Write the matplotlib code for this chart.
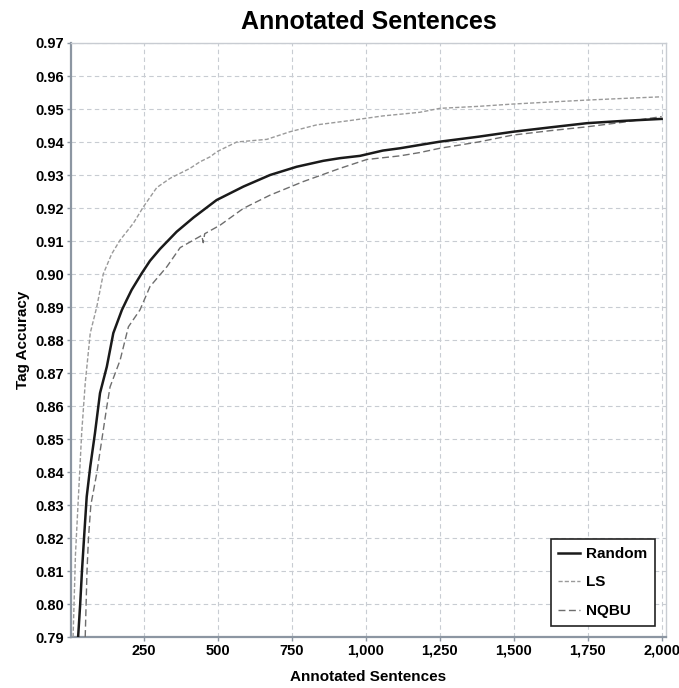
import matplotlib
matplotlib.use("Agg")
import matplotlib.pyplot as plt
from matplotlib.ticker import FuncFormatter, MultipleLocator

plt.rcParams['font.family'] = ['Liberation Sans', 'DejaVu Sans']
plt.rcParams['font.weight'] = 'bold'

# Data (annotated sentences, tag accuracy)
random_x = [27, 34, 40, 47, 56, 68, 84, 101, 124, 146, 175, 191, 208, 242, 270, 304,
            360, 417, 495, 586, 676, 766, 856, 912, 980, 1057, 1115, 1182, 1250, 1380,
            1497, 1620, 1747, 1870, 2000]
random_y = [0.790, 0.800, 0.810, 0.820, 0.8325, 0.8416, 0.8518, 0.8639, 0.8719, 0.8821,
            0.8891, 0.8921, 0.8952, 0.9002, 0.9040, 0.9076, 0.9128, 0.9171, 0.9224,
            0.9265, 0.9300, 0.9325, 0.9343, 0.9351, 0.9358, 0.9374, 0.9381, 0.9391,
            0.9401, 0.9416, 0.9431, 0.9444, 0.9457, 0.9464, 0.9470]

ls_x = [10, 18, 28, 39, 51, 68, 90, 112, 140, 169, 214, 248, 293, 338, 405, 439, 473,
        497, 563, 665, 743, 834, 946, 1057, 1182, 1250, 1380, 1497, 1620, 1747, 1870, 2000]
ls_y = [0.790, 0.815, 0.8325, 0.8518, 0.8669, 0.8821, 0.8900, 0.9000, 0.9060, 0.9103,
        0.9154, 0.9204, 0.9262, 0.9290, 0.9320, 0.9340, 0.9355, 0.9371, 0.9400, 0.9408,
        0.9431, 0.9452, 0.9465, 0.9479, 0.9490, 0.9502, 0.9508, 0.9515, 0.9521, 0.9527,
        0.9532, 0.9537]

nqbu_x = [51, 54, 57, 62, 70, 90, 107, 124, 135, 169, 197, 236, 270, 327, 372, 445,
          450, 455, 507, 586, 676, 788, 912, 1003, 1115, 1182, 1250, 1380, 1497, 1620,
          1747, 1870, 2000]
nqbu_y = [0.790, 0.800, 0.810, 0.820, 0.830, 0.8396, 0.8497, 0.8598, 0.8658, 0.8739,
          0.8840, 0.8891, 0.8962, 0.9022, 0.9080, 0.9117, 0.9095, 0.9122, 0.9148, 0.9199,
          0.9239, 0.9280, 0.9320, 0.9347, 0.9358, 0.9368, 0.9381, 0.9400, 0.9421, 0.9434,
          0.9446, 0.9460, 0.9477]

x_ticks = [250, 500, 750, 1000, 1250, 1500, 1750, 2000]

fig = plt.figure(figsize=(6.79, 6.88), dpi=100)
ax = fig.add_axes([0.1046, 0.0741, 0.8764, 0.8634])

ax.plot(random_x, random_y, color='#1a1a1a', lw=1.8, label='Random', zorder=4)
ax.plot(ls_x, ls_y, color='#9a9a9a', lw=1.0, ls=(0, (3, 1.5)), label='LS', zorder=3)
ax.plot(nqbu_x, nqbu_y, color='#6e6e6e', lw=1.0, ls=(0, (5, 2.5)), label='NQBU', zorder=3)

ax.set_xlim(3, 2015)
ax.set_ylim(0.79, 0.97)
ax.set_xticks(x_ticks)
ax.xaxis.set_major_formatter(FuncFormatter(lambda v, p: f"{int(v):,}"))
ax.yaxis.set_major_locator(MultipleLocator(0.01))
ax.yaxis.set_major_formatter(FuncFormatter(lambda v, p: f"{v:.2f}"))

ax.grid(True, color='#c8ccd2', ls=(0, (4, 3)), lw=0.8)
ax.set_axisbelow(True)
for s in ['left', 'bottom']:
    ax.spines[s].set_color('#8c96a2')
    ax.spines[s].set_linewidth(1.6)
for s in ['top', 'right']:
    ax.spines[s].set_color('#c8ccd2')
    ax.spines[s].set_linewidth(1.0)
ax.tick_params(axis='both', labelsize=10.5, length=3, pad=2, color='#8c96a2', width=1)
for lab in ax.get_xticklabels() + ax.get_yticklabels():
    lab.set_fontweight('bold')

ax.set_title('Annotated Sentences', fontsize=18, fontweight='bold', pad=10)
ax.set_xlabel('Annotated Sentences', fontsize=11, fontweight='bold', labelpad=9)
ax.set_ylabel('Tag Accuracy', fontsize=11, fontweight='bold', labelpad=4)

leg = ax.legend(loc='lower right', fontsize=11, fancybox=False, framealpha=1,
                edgecolor='#222222', borderaxespad=0.75, handlelength=1.4,
                handletextpad=0.4, borderpad=0.5, labelspacing=0.95)
leg.get_frame().set_linewidth(1.2)

fig.savefig('out.png', dpi=100)
